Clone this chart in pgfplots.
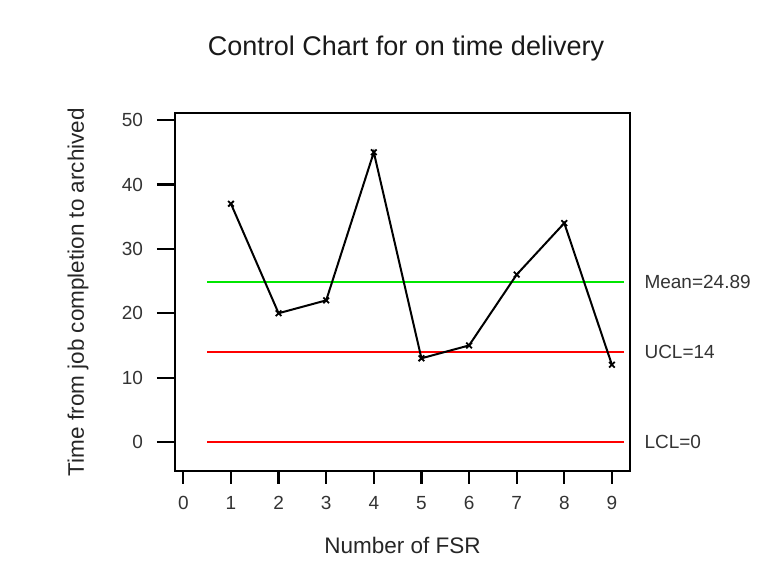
\documentclass[border=0pt]{standalone}
\usepackage{pgfplots}
\pgfplotsset{compat=1.18}
\usepackage{fontspec}
\setmainfont{Liberation Sans}
\definecolor{lgreen}{RGB}{0,230,0}
\begin{document}
\begin{tikzpicture}
\useasboundingbox (-175pt,-106pt) rectangle (607pt,471pt);
\begin{axis}[
  at={(0pt,0pt)}, anchor=south west,
  scale only axis, width=455pt, height=358pt,
  xmin=-0.175, xmax=9.38, ymin=-4.5, ymax=51.1,
  xtick={0,...,9}, ytick={0,10,...,50},
  tick pos=left, tick align=outside,
  major tick length=18pt,
  xtick style={/pgfplots/major tick length=13pt},
  axis line style={line width=2.4pt},
  every tick/.style={line width=2.2pt, black},
  /pgf/number format/assume math mode=true,
  ticklabel style={font=\fontsize{19}{22}\selectfont, text=black!80},
  xticklabel style={yshift=-4pt},
  yticklabel style={xshift=-10.5pt},
  clip=false,
]
\addplot[red, line width=2pt] coordinates {(0.5,14) (9.25,14)};
\addplot[red, line width=2pt] coordinates {(0.5,0) (9.25,0)};
\addplot[lgreen, line width=2pt] coordinates {(0.5,24.89) (9.25,24.89)};
\addplot[black, line width=2pt, mark=x, mark size=4pt, mark options={line width=1.8pt}] coordinates {
(1,37) (2,20) (3,22) (4,45) (5,13) (6,15) (7,26) (8,34) (9,12)};
\node[anchor=west, font=\fontsize{19}{22}\selectfont, text=black!80] at (axis cs:9.38,24.89) [xshift=11pt] {Mean=24.89};
\node[anchor=west, font=\fontsize{19}{22}\selectfont, text=black!80] at (axis cs:9.38,14) [xshift=11pt] {UCL=14};
\node[anchor=west, font=\fontsize{19}{22}\selectfont, text=black!80] at (axis cs:9.38,0) [xshift=11pt] {LCL=0};
\end{axis}
\node[anchor=base, font=\fontsize{27}{30}\selectfont, text=black!90] at (231pt,415pt) {Control Chart for on time delivery};
\node[anchor=base, font=\fontsize{22.5}{26}\selectfont, text=black!85] at (227.5pt,-83pt) {Number of FSR};
\node[rotate=90, anchor=center, font=\fontsize{22.5}{26}\selectfont, text=black!85] at (-97pt,179pt) {Time from job completion to archived};
\end{tikzpicture}
\end{document}
